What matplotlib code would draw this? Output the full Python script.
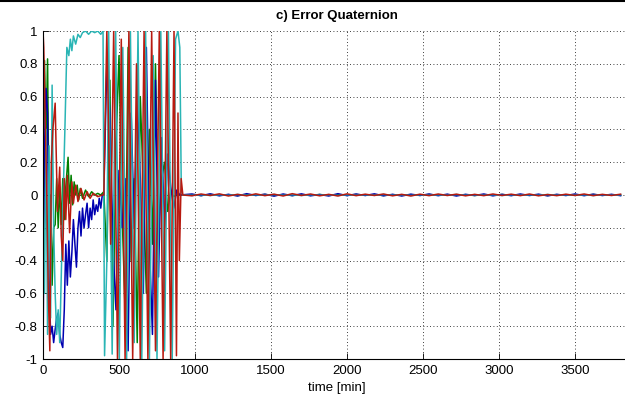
import numpy as np
import matplotlib
matplotlib.use('Agg')
import matplotlib.pyplot as plt
from matplotlib.lines import Line2D

# error quaternion components (time in min)
t_b = [0, 10, 20, 30, 40, 50, 60, 70, 80, 90, 100, 110, 120, 130, 140, 150, 160, 170, 180, 190,
       200, 210, 220, 230, 240, 250, 260, 270, 280, 290, 300, 310, 320, 330, 340, 350, 360, 370, 380, 390,
       400, 420, 440, 460, 480, 500, 520, 540, 560, 580, 600, 620, 640, 660, 680, 700, 720, 740, 760, 780,
       800, 820, 840, 860, 880, 900]
q_b = [-1.0, 0.3, 0.65, 0.5, -0.5, -0.85, -0.8, -0.9, -0.82, -0.75, -0.72, -0.85, -0.9, -0.93, -0.7, -0.3, -0.55, -0.28, -0.5, -0.35,
       -0.15, -0.3, -0.44, -0.2, -0.1, -0.25, -0.08, -0.2, -0.12, -0.05, -0.2, -0.08, -0.15, -0.03, -0.12, -0.06, -0.1, -0.02, -0.08, 0.0,
       0.0, 0.8, 0.5, -0.3, -0.7, 0.15, -0.2, 0.1, -0.95, 0.5, -0.2, 0.6, 0.1, -0.6, 0.9, -0.3, -0.85, 0.7, -0.5, 0.35,
       -0.2, 0.25, 0.05, -0.08, 0.03, 0.0]

t_g = [0, 10, 20, 30, 40, 50, 60, 70, 80, 90, 100, 110, 120, 130, 140, 150, 165, 175, 185, 195,
       205, 215, 225, 235, 245, 260, 280, 300, 320, 340, 360, 380,
       400, 420, 440, 460, 480, 500, 520, 540, 560, 580, 600, 620, 640, 660, 680, 700, 720, 740, 760, 780,
       800, 820, 840, 860, 880, 900]
q_g = [0.0, 0.82, 0.3, 0.83, -0.2, 0.0, -0.55, -0.2, -0.18, 0.1, -0.2, 0.05, -0.18, 0.1, -0.15, 0.05, 0.23, -0.05, 0.12, -0.06,
       0.08, 0.0, 0.06, -0.03, 0.04, -0.02, 0.03, -0.01, 0.02, 0.0, 0.01, 0.0,
       0.02, -0.4, 0.7, -0.8, 0.3, 0.85, -0.1, -0.7, 0.9, -0.4, 0.1, -0.9, 0.6, 0.05, -0.6, 0.4, -0.3, 0.8, -0.2, 0.1,
       0.2, -0.1, 0.02, -0.01, 0.0, 0.0]

t_r = [0, 5, 15, 25, 35, 45, 55, 65, 80, 95, 110, 120, 130, 140, 150, 160, 175, 190, 200, 215,
       230, 250, 270, 290, 310, 330, 360, 390,
       400, 420, 445, 465, 490, 515, 540, 565, 590, 615, 640, 665, 690, 715, 740, 765, 790, 815,
       840, 862, 878, 888, 897, 909, 920]
q_r = [1.0, 0.9, 0.45, 0.0, -0.6, -0.95, 0.2, 0.4, 0.56, -0.1, 0.17, -0.25, -0.4, 0.1, -0.15, 0.12, -0.23, 0.08, -0.05, 0.06,
       -0.04, 0.04, -0.03, 0.02, -0.02, 0.01, -0.01, 0.0,
       0.0, 1.0, -0.3, 1.0, -1.0, 0.95, -1.0, 1.0, -1.0, 0.8, -1.0, 1.0, -1.0, 1.0, -0.95, 1.0, -1.0, 1.0,
       -1.0, 1.0, -0.98, 0.5, -0.4, 0.1, 0.0]

t_c = [0, 10, 20, 30, 40, 50, 60, 70, 80, 90, 100, 110, 120, 130, 144, 157, 170, 180, 190, 200,
       215, 230, 245, 260, 280, 300, 320, 340, 360, 380, 395,
       405, 420, 432, 455, 478, 502, 525, 550, 575, 600, 625, 650, 675, 700, 725, 750, 775, 800, 825, 850,
       872, 888, 900, 910, 920]
q_c = [0.0, -0.6, 0.4, -0.85, 0.3, -0.75, 0.67, -0.2, -0.6, -0.85, -0.7, -0.9, -0.5, -0.1, 0.4, 0.9, 0.85, 0.95, 0.88, 0.97,
       0.92, 0.98, 0.96, 0.99, 1.0, 0.98, 1.0, 0.99, 1.0, 0.98, 1.0,
       -0.98, -0.4, 1.0, -0.97, 1.0, -1.0, 0.9, -1.0, 1.0, -0.9, 1.0, -1.0, 1.0, -1.0, 0.85, -1.0, 1.0, -0.95, 1.0, -1.0,
       0.95, 1.0, 0.9, 0.02, 0.0]

# converged part, one sample every 60 min
t_tail = list(range(980, 3801, 60))
tail_b = [0.006, -0.004, 0.007, -0.005, 0.004, -0.006, 0.008, -0.003, 0.005, -0.007, 0.006, -0.004, 0.007, -0.005, 0.003, -0.006,
          0.008, -0.004, 0.006, -0.003, 0.007, -0.005, 0.004, -0.006, 0.005, -0.003, 0.006, -0.004, 0.005, -0.006, 0.004, -0.003,
          0.006, -0.005, 0.004, -0.004, 0.006, -0.003, 0.005, -0.005, 0.004, -0.003, 0.006, -0.004, 0.005, -0.003, 0.004, -0.004]
tail_r = [-0.005, 0.006, -0.003, 0.007, -0.006, 0.004, -0.005, 0.007, -0.004, 0.005, -0.006, 0.008, -0.003, 0.006, -0.005, 0.004,
          -0.006, 0.007, -0.004, 0.005, -0.003, 0.006, -0.005, 0.004, -0.006, 0.005, -0.004, 0.006, -0.003, 0.005, -0.005, 0.004,
          -0.004, 0.006, -0.003, 0.005, -0.004, 0.006, -0.005, 0.003, -0.004, 0.005, -0.003, 0.006, -0.004, 0.004, -0.003, 0.005]
tail_g = [0.002, -0.003, 0.003, -0.002, 0.002, -0.003, 0.002, -0.002, 0.003, -0.002, 0.002, -0.003, 0.002, -0.002, 0.003, -0.002,
          0.002, -0.002, 0.003, -0.002, 0.002, -0.003, 0.002, -0.002, 0.002, -0.002, 0.003, -0.002, 0.002, -0.002, 0.002, -0.003,
          0.002, -0.002, 0.003, -0.002, 0.002, -0.002, 0.002, -0.003, 0.002, -0.002, 0.002, -0.002, 0.003, -0.002, 0.002, -0.002]
tail_c = [-0.002, 0.002, -0.003, 0.002, -0.002, 0.003, -0.002, 0.002, -0.002, 0.003, -0.002, 0.002, -0.003, 0.002, -0.002, 0.002,
          -0.003, 0.002, -0.002, 0.002, -0.002, 0.003, -0.002, 0.002, -0.003, 0.002, -0.002, 0.002, -0.002, 0.003, -0.002, 0.002,
          -0.002, 0.002, -0.003, 0.002, -0.002, 0.002, -0.002, 0.003, -0.002, 0.002, -0.002, 0.002, -0.003, 0.002, -0.002, 0.002]

x_ticks = [0, 500, 1000, 1500, 2000, 2500, 3000, 3500]
y_ticks = [-1, -0.8, -0.6, -0.4, -0.2, 0, 0.2, 0.4, 0.6, 0.8, 1]
y_labels = ['-1', '-0.8', '-0.6', '-0.4', '-0.2', '0', '0.2', '0.4', '0.6', '0.8', '1']

plt.rcParams['font.family'] = ['Liberation Sans', 'DejaVu Sans']

fig = plt.figure(figsize=(6.25, 3.98), dpi=100)
ax = fig.add_axes([43 / 625, 1 - 359 / 398, 1 - 43 / 625 + 0.01, 328 / 398])

# cyan and green first so the red/blue wiggle stays on top of the converged part
series = [(t_g, q_g, tail_g, '#008000'),
          (t_b, q_b, tail_b, '#0000b0'),
          (t_c, q_c, tail_c, '#2ab5b5'),
          (t_r, q_r, tail_r, '#b81a10')]
for t, q, tail, col in series:
    ax.plot(list(t) + t_tail, list(q) + tail, color=col, lw=1.1)

ax.set_xlim(0, 3870)
ax.set_ylim(-1, 1)
ax.set_xticks(x_ticks)
ax.set_yticks(y_ticks)
ax.set_yticklabels(y_labels)
ax.tick_params(direction='in', length=4, width=0.6, labelsize=9.5, colors='black', pad=4)
ax.grid(True, color='black', linestyle=(0, (1, 3)), lw=0.6)
for s in ['top', 'right']:
    ax.spines[s].set_visible(False)
for s in ['left', 'bottom']:
    ax.spines[s].set_linewidth(0.8)

ax.set_title('c) Error Quaternion', fontsize=9.5, fontweight='bold', pad=9)
ax.set_xlabel('time [min]', fontsize=9.5, labelpad=4)

fig.add_artist(Line2D([0, 1], [0.997, 0.997], color='black', lw=1.5, transform=fig.transFigure))

fig.savefig('out.png', dpi=100)
